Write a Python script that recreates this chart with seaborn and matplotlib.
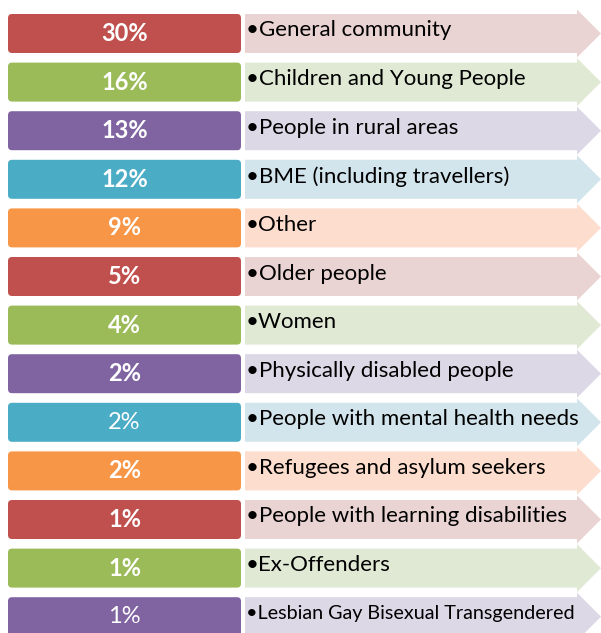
import matplotlib
matplotlib.use("Agg")
import matplotlib.pyplot as plt
import seaborn as sns
import pandas as pd
from matplotlib.patches import FancyBboxPatch, Polygon

categories = [
    "General community", "Children and Young People", "People in rural areas",
    "BME (including travellers)", "Other", "Older people", "Women",
    "Physically disabled people", "People with mental health needs",
    "Refugees and asylum seekers", "People with learning disabilities",
    "Ex-Offenders", "Lesbian Gay Bisexual Transgendered",
]
percent = [30, 16, 13, 12, 9, 5, 4, 2, 2, 2, 1, 1, 1]
bold_flags = [True, True, True, True, True, True, True, True, False, True, True, True, False]
palette = ["#C0504D", "#9BBB59", "#8064A2", "#4BACC6", "#F79646"]
arrow_palette = ["#EAD4D3", "#E0E9D4", "#DDD8E6", "#D3E5EC", "#FDDECE"]

df = pd.DataFrame({"category": categories, "percent": percent, "bold": bold_flags})
df["row"] = range(len(df))
df["color"] = [palette[i % len(palette)] for i in range(len(df))]
df["arrow"] = [arrow_palette[i % len(arrow_palette)] for i in range(len(df))]

sns.set_theme(style="white")
plt.rcParams["font.family"] = ["Lato", "DejaVu Sans"]

fig = plt.figure(figsize=(6.01, 6.33), dpi=100)
ax = fig.add_axes([0, 0, 1, 1])
ax.set_xlim(0, 601)
ax.set_ylim(633, 0)
ax.axis("off")

y0, step = 33.5, 48.6
box_x0, box_x1, box_h = 8, 241, 39
arr_x0, arr_body_x1, arr_tip = 245, 577, 601
arr_half, head_half = 19.5, 24

for _, r in df.iterrows():
    yc = y0 + r["row"] * step
    poly = Polygon([
        (arr_x0, yc - arr_half), (arr_body_x1, yc - arr_half), (arr_body_x1, yc - head_half),
        (arr_tip, yc), (arr_body_x1, yc + head_half), (arr_body_x1, yc + arr_half),
        (arr_x0, yc + arr_half)], closed=True, facecolor=r["arrow"], edgecolor="none")
    ax.add_patch(poly)
    ax.add_patch(FancyBboxPatch((box_x0 + 4, yc - box_h / 2 + 4), box_x1 - box_x0 - 8, box_h - 8,
                                boxstyle="round,pad=4", facecolor=r["color"], edgecolor="none"))
    ax.text((box_x0 + box_x1) / 2, yc, f"{r['percent']}%", color="white", ha="center", va="center",
            fontsize=17, fontweight="bold" if r["bold"] else "normal")
    fs = 14.2 if r["row"] == len(df) - 1 else 16
    ax.text(arr_x0 + 1, yc - 3, "\u2022" + r["category"], color="black", ha="left", va="center",
            fontsize=fs)

fig.savefig("out.png", dpi=100)
